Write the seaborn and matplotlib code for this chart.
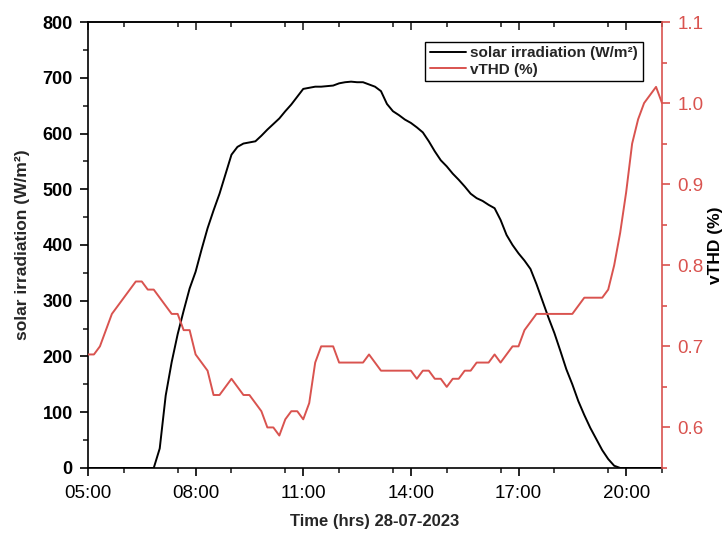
import numpy as np
import pandas as pd
import matplotlib
matplotlib.use("Agg")
import matplotlib.pyplot as plt
from matplotlib.ticker import MultipleLocator, FuncFormatter, FormatStrFormatter
from matplotlib.lines import Line2D
import seaborn as sns

# 10-minute samples from 05:00 to 21:00 on 28-07-2023 (hours of the day)
hours = 5 + np.arange(97) / 6.0

# solar irradiation, W/m2
irradiation = [
    0, 0, 0, 0, 0, 0,                      # 05:00-05:50
    0, 0, 0, 0, 0, 0,                      # 06:00-06:50
    35, 130, 190, 240, 282, 322,           # 07:00-07:50
    352, 392, 430, 462, 492, 527,          # 08:00-08:50
    562, 576, 582, 584, 586, 596,          # 09:00-09:50
    607, 617, 627, 640, 652, 666,          # 10:00-10:50
    680, 682, 684, 684, 685, 686,          # 11:00-11:50
    690, 692, 693, 692, 692, 688,          # 12:00-12:50
    684, 676, 653, 640, 633, 625,          # 13:00-13:50
    619, 611, 602, 586, 568, 552,          # 14:00-14:50
    541, 528, 517, 505, 492, 484,          # 15:00-15:50
    479, 472, 466, 445, 418, 400,          # 16:00-16:50
    385, 372, 357, 330, 300, 270,          # 17:00-17:50
    242, 210, 177, 150, 120, 95,           # 18:00-18:50
    72, 52, 32, 16, 4, 0,                  # 19:00-19:50
    0, 0, 0, 0, 0, 0,                      # 20:00-20:50
    0,                                     # 21:00
]

# voltage total harmonic distortion, %
vthd = [
    0.69, 0.69, 0.70, 0.72, 0.74, 0.75,    # 05:00-05:50
    0.76, 0.77, 0.78, 0.78, 0.77, 0.77,    # 06:00-06:50
    0.76, 0.75, 0.74, 0.74, 0.72, 0.72,    # 07:00-07:50
    0.69, 0.68, 0.67, 0.64, 0.64, 0.65,    # 08:00-08:50
    0.66, 0.65, 0.64, 0.64, 0.63, 0.62,    # 09:00-09:50
    0.60, 0.60, 0.59, 0.61, 0.62, 0.62,    # 10:00-10:50
    0.61, 0.63, 0.68, 0.70, 0.70, 0.70,    # 11:00-11:50
    0.68, 0.68, 0.68, 0.68, 0.68, 0.69,    # 12:00-12:50
    0.68, 0.67, 0.67, 0.67, 0.67, 0.67,    # 13:00-13:50
    0.67, 0.66, 0.67, 0.67, 0.66, 0.66,    # 14:00-14:50
    0.65, 0.66, 0.66, 0.67, 0.67, 0.68,    # 15:00-15:50
    0.68, 0.68, 0.69, 0.68, 0.69, 0.70,    # 16:00-16:50
    0.70, 0.72, 0.73, 0.74, 0.74, 0.74,    # 17:00-17:50
    0.74, 0.74, 0.74, 0.74, 0.75, 0.76,    # 18:00-18:50
    0.76, 0.76, 0.76, 0.77, 0.80, 0.84,    # 19:00-19:50
    0.89, 0.95, 0.98, 1.00, 1.01, 1.02,    # 20:00-20:50
    1.00,                                  # 21:00
]

hour_ticks = [5, 8, 11, 14, 17, 20]
irr_label = "solar irradiation (W/m²)"
thd_label = "vTHD (%)"
red = "#d9534f"

df = pd.DataFrame({"hour": hours, "irradiation": irradiation, "vthd": vthd})

sns.set_theme(style="ticks")
plt.rcParams["font.family"] = ["Liberation Sans", "DejaVu Sans"]

fig = plt.figure(figsize=(7.24, 5.33), dpi=100)
ax = fig.add_axes([0.1215, 0.122, 0.7929, 0.8367])
ax2 = ax.twinx()

sns.lineplot(data=df, x="hour", y="irradiation", ax=ax, color="black",
             linewidth=1.4, legend=False)
sns.lineplot(data=df, x="hour", y="vthd", ax=ax2, color=red,
             linewidth=1.4, legend=False)

# x axis
ax.set_xlim(5, 21)
ax.set_xticks(hour_ticks)
ax.xaxis.set_minor_locator(MultipleLocator(1.5))
ax.xaxis.set_major_formatter(FuncFormatter(lambda v, _: f"{int(round(v)):02d}:00"))
ax.set_xlabel("Time (hrs) 28-07-2023", fontsize=12, fontweight="bold", labelpad=9)

# left axis
ax.set_ylim(0, 800)
ax.yaxis.set_major_locator(MultipleLocator(100))
ax.yaxis.set_minor_locator(MultipleLocator(50))
ax.set_ylabel(irr_label, fontsize=12.5, fontweight="bold", labelpad=9)

# right axis
ax2.set_ylim(0.55, 1.1)
ax2.set_yticks([0.6, 0.7, 0.8, 0.9, 1.0, 1.1])
ax2.yaxis.set_minor_locator(MultipleLocator(0.05))
ax2.yaxis.set_major_formatter(FormatStrFormatter("%.1f"))
ax2.set_ylabel(thd_label, fontsize=12.5, fontweight="bold", color="black", labelpad=3)
ax2.set_xlabel("")

ax.tick_params(axis="x", which="major", direction="out", length=6, width=1.2,
               labelsize=13.5, colors="black", pad=6)
ax.tick_params(axis="y", which="major", direction="out", length=6, width=1.2,
               labelsize=13, colors="black", pad=5)
ax.tick_params(axis="both", which="minor", direction="out", length=3.5, width=1.2)
ax.tick_params(axis="y", which="both", right=False)
for lab in ax.get_yticklabels():
    lab.set_fontweight("bold")
ax2.tick_params(axis="y", which="major", direction="out", length=6, width=1.2,
                labelsize=13.5, colors=red, pad=5)
ax2.tick_params(axis="y", which="minor", direction="out", length=3.5, width=1.2, colors=red)

# ticks along the top edge point inward
top = ax.secondary_xaxis("top")
top.set_xticks(hour_ticks)
top.xaxis.set_minor_locator(MultipleLocator(1.5))
top.tick_params(which="major", direction="in", length=6, width=1.2, labeltop=False)
top.tick_params(which="minor", direction="in", length=3.5, width=1.2)
top.spines["top"].set_linewidth(1.2)

for s in ["left", "bottom", "top"]:
    ax.spines[s].set_linewidth(1.2)
    ax.spines[s].set_color("black")
ax2.spines["right"].set_color(red)
ax2.spines["right"].set_linewidth(1.2)
for s in ["left", "bottom", "top"]:
    ax2.spines[s].set_visible(False)
ax.spines["right"].set_visible(False)

handles = [Line2D([], [], color="black", linewidth=1.4),
           Line2D([], [], color=red, linewidth=1.4)]
leg = ax2.legend(handles, [irr_label, thd_label], loc="upper right",
                 bbox_to_anchor=(0.966, 0.956), borderaxespad=0, frameon=True,
                 fancybox=False, edgecolor="black", framealpha=1, handlelength=2.4,
                 handletextpad=0.25, borderpad=0.3, labelspacing=0.15,
                 prop={"size": 11, "weight": "bold"})
leg.get_frame().set_linewidth(1.0)

fig.savefig("out.png", dpi=100)
